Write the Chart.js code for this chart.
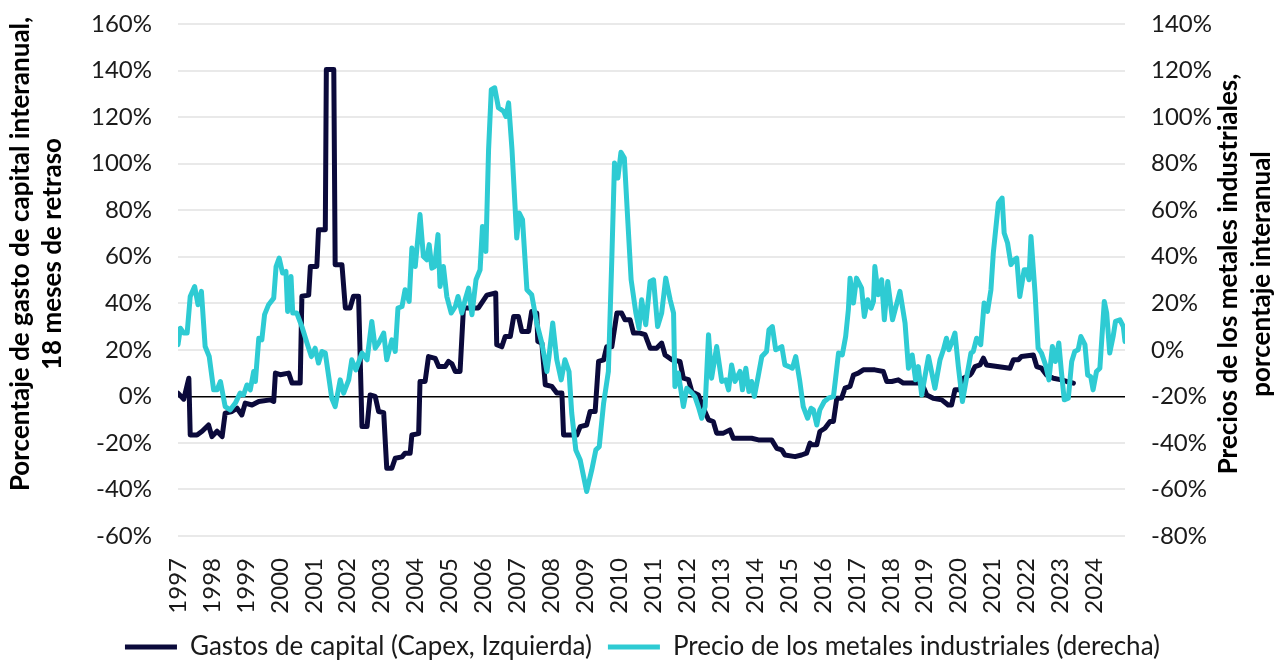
<!DOCTYPE html>
<html lang="es">
<head>
<meta charset="utf-8">
<script src="https://cdn.jsdelivr.net/npm/chart.js@4.4.1/dist/chart.umd.min.js"></script>
<style>
  html, body { margin: 0; padding: 0; background: #fff; }
  #wrap { width: 1285px; height: 664px; position: relative; }
</style>
</head>
<body>
<div id="wrap"><canvas id="chart"></canvas></div>
<script>
// Capex YoY (18-month lag), left axis, % — dates as decimal years
const capexDates = [
  1997.00, 1997.17, 1997.32, 1997.36, 1997.56, 1997.71, 1997.90, 1998.00, 1998.15, 1998.30,
  1998.39, 1998.59, 1998.74, 1998.88, 1998.98, 1999.18, 1999.38, 1999.72, 1999.82, 1999.87,
  2000.01, 2000.26, 2000.36, 2000.60, 2000.65, 2000.85, 2000.90, 2001.09, 2001.14, 2001.34,
  2001.37, 2001.59, 2001.63, 2001.83, 2001.93, 2002.07, 2002.17, 2002.32, 2002.42, 2002.57,
  2002.66, 2002.81, 2002.91, 2003.06, 2003.15, 2003.30, 2003.40, 2003.60, 2003.69, 2003.84,
  2003.89, 2004.09, 2004.13, 2004.28, 2004.38, 2004.58, 2004.68, 2004.87, 2004.97, 2005.07,
  2005.17, 2005.31, 2005.41, 2005.51, 2005.85, 2006.10, 2006.36, 2006.39, 2006.54, 2006.64,
  2006.79, 2006.89, 2007.03, 2007.13, 2007.33, 2007.42, 2007.57, 2007.60, 2007.72, 2007.82,
  2008.01, 2008.16, 2008.31, 2008.36, 2008.75, 2008.85, 2009.04, 2009.14, 2009.29, 2009.39,
  2009.54, 2009.63, 2009.78, 2009.93, 2010.07, 2010.17, 2010.32, 2010.42, 2010.61, 2010.76,
  2010.91, 2011.10, 2011.25, 2011.35, 2011.55, 2011.79, 2011.89, 2012.04, 2012.14, 2012.33,
  2012.48, 2012.63, 2012.77, 2012.87, 2013.07, 2013.26, 2013.36, 2013.90, 2014.10, 2014.49,
  2014.64, 2014.79, 2014.88, 2015.18, 2015.37, 2015.52, 2015.62, 2015.67, 2015.82, 2015.91,
  2016.06, 2016.21, 2016.31, 2016.41, 2016.55, 2016.65, 2016.80, 2016.90, 2017.04, 2017.19,
  2017.53, 2017.78, 2017.88, 2018.03, 2018.22, 2018.37, 2018.91, 2019.06, 2019.25, 2019.50,
  2019.69, 2019.79, 2019.89, 2020.04, 2020.14, 2020.33, 2020.38, 2020.48, 2020.63, 2020.73,
  2020.82, 2021.51, 2021.61, 2021.76, 2021.85, 2022.20, 2022.30, 2022.44, 2022.59, 2022.79,
  2023.03, 2023.18, 2023.38
];
const capexValues = [
  1.4, -1.2, 7.8, -16.6, -16.6, -15, -12.3, -17.3, -15, -17.3,
  -7.2, -6.5, -5.1, -8, -2.9, -3.7, -2.2, -1.5, -2.2, 10,
  9.3, 10, 5.7, 5.7, 43, 43.5, 55.8, 55.8, 71.6, 71.6,
  140.4, 140.4, 56.6, 56.6, 38, 38, 43, 43, -13, -13,
  0.6, 0, -6.5, -7, -30.9, -30.9, -26.6, -26, -24.4, -24.4,
  -16.6, -16, 6.4, 6.4, 17.1, 16.3, 12.8, 12.8, 15, 14,
  10.7, 10.7, 38, 38, 38, 43.5, 44.4, 22.2, 21.3, 25.7,
  25.7, 34.3, 34.3, 27.9, 27.9, 36.5, 35.8, 23.6, 22.9, 5,
  4.3, 1.4, 1.4, -16.6, -16.6, -13, -12.3, -6.5, -6.5, 15,
  15.7, 21.3, 21.3, 35.8, 35.8, 32.9, 32.9, 27.2, 27.2, 26.5,
  20.7, 20.7, 22.9, 17.8, 15.7, 15, 7.8, 7.2, 2, 0.6,
  -5.1, -10.1, -10.8, -15.8, -15.8, -14.4, -18, -18, -18.7, -18.7,
  -22.3, -23, -25.2, -25.9, -25.2, -24.4, -20.1, -20.8, -20.8, -15.1,
  -13.7, -10.8, -10.8, -0.8, -0.8, 3.5, 4.3, 9.2, 10, 11.4,
  11.4, 10.7, 6.4, 6.4, 7.1, 5.7, 5.7, 0.6, -0.8, -1.5,
  -3.7, -3.7, 2.8, 2.8, 7.8, 9.2, 10, 12.8, 13.5, 16.4,
  13.5, 12.1, 15.7, 15.7, 17.1, 17.8, 12.8, 12.1, 9.2, 7.8,
  7.1, 6.4, 5.7
];

// Industrial metals price YoY, right axis, %
const metalsDates = [
  1997.00, 1997.07, 1997.17, 1997.27, 1997.36, 1997.49, 1997.59, 1997.69, 1997.80, 1997.92,
  1998.05, 1998.15, 1998.25, 1998.39, 1998.54, 1998.69, 1998.83, 1998.93, 1999.03, 1999.13,
  1999.23, 1999.28, 1999.38, 1999.47, 1999.55, 1999.67, 1999.82, 1999.89, 1999.98, 2000.08,
  2000.18, 2000.23, 2000.33, 2000.38, 2000.50, 2000.65, 2000.80, 2000.93, 2001.04, 2001.14,
  2001.24, 2001.34, 2001.44, 2001.53, 2001.63, 2001.78, 2001.88, 2002.03, 2002.12, 2002.24,
  2002.42, 2002.57, 2002.71, 2002.81, 2002.91, 2003.06, 2003.15, 2003.30, 2003.40, 2003.48,
  2003.60, 2003.69, 2003.81, 2003.89, 2003.99, 2004.13, 2004.23, 2004.33, 2004.40, 2004.48,
  2004.56, 2004.66, 2004.72, 2004.82, 2004.92, 2005.05, 2005.17, 2005.25, 2005.36, 2005.46,
  2005.56, 2005.66, 2005.78, 2005.90, 2005.97, 2006.07, 2006.15, 2006.23, 2006.33, 2006.44,
  2006.59, 2006.66, 2006.74, 2006.84, 2006.98, 2007.05, 2007.15, 2007.28, 2007.42, 2007.57,
  2007.72, 2007.87, 2007.93, 2008.04, 2008.16, 2008.29, 2008.40, 2008.52, 2008.60, 2008.72,
  2008.85, 2009.04, 2009.19, 2009.31, 2009.41, 2009.54, 2009.68, 2009.78, 2009.86, 2009.96,
  2010.05, 2010.15, 2010.25, 2010.35, 2010.49, 2010.58, 2010.66, 2010.78, 2010.91, 2011.01,
  2011.13, 2011.25, 2011.37, 2011.50, 2011.60, 2011.64, 2011.74, 2011.89, 2011.99, 2012.14,
  2012.23, 2012.33, 2012.43, 2012.53, 2012.63, 2012.72, 2012.87, 2013.02, 2013.14, 2013.22,
  2013.31, 2013.41, 2013.56, 2013.63, 2013.73, 2013.82, 2013.90, 2013.98, 2014.10, 2014.20,
  2014.34, 2014.41, 2014.51, 2014.61, 2014.71, 2014.79, 2014.88, 2015.00, 2015.10, 2015.20,
  2015.32, 2015.42, 2015.55, 2015.65, 2015.72, 2015.82, 2015.91, 2016.04, 2016.16, 2016.31,
  2016.38, 2016.46, 2016.57, 2016.67, 2016.75, 2016.80, 2016.90, 2016.99, 2017.14, 2017.22,
  2017.32, 2017.42, 2017.49, 2017.53, 2017.63, 2017.73, 2017.81, 2017.91, 2018.05, 2018.27,
  2018.42, 2018.52, 2018.63, 2018.73, 2018.81, 2018.91, 2019.11, 2019.30, 2019.45, 2019.55,
  2019.64, 2019.71, 2019.79, 2019.89, 2019.99, 2020.11, 2020.23, 2020.36, 2020.43, 2020.53,
  2020.65, 2020.75, 2020.85, 2020.95, 2021.02, 2021.17, 2021.28, 2021.34, 2021.44, 2021.54,
  2021.64, 2021.71, 2021.80, 2021.93, 2022.00, 2022.07, 2022.13, 2022.25, 2022.34, 2022.44,
  2022.56, 2022.66, 2022.76, 2022.85, 2022.95, 2023.03, 2023.11, 2023.23, 2023.33, 2023.42,
  2023.52, 2023.60, 2023.72, 2023.80, 2023.89, 2023.96, 2024.06, 2024.16, 2024.29, 2024.36,
  2024.45, 2024.55, 2024.62, 2024.75, 2024.85, 2024.90
];
const metalsValues = [
  2.2, 9.3, 7.2, 7.2, 22.9, 27.2, 19.4, 25.1, 1.4, -2.9,
  -17.2, -17.2, -13.6, -24.4, -25.8, -22.9, -18.6, -19.4, -15.1, -17.2,
  -9.3, -13.6, 5, 4.3, 15.1, 19.4, 22.2, 35.8, 39.4, 33,
  33.7, 16.5, 31.5, 15.8, 15.8, 10, 2.9, -2.9, 0.7, -5.7,
  -0.7, -1.4, -11.5, -20.8, -24.4, -12.9, -18.6, -12.9, -4.3, -8.6,
  -1.4, -4.3, 12.2, 0.7, 2.9, 7.2, -4.3, 4.3, -0.7, 17.9,
  18.6, 25.8, 20.8, 43.7, 35.8, 58.1, 40.1, 38.7, 45.2, 35.1,
  35.8, 49.5, 27.2, 35.8, 22.9, 15.8, 18.6, 22.9, 15.8, 21.5,
  26.5, 15.1, 30.1, 34.4, 53, 42.3, 86, 111.8, 112.6, 104,
  102.5, 100.3, 106.1, 86, 48, 58.8, 55.9, 25.8, 23.7, 11.5,
  2.9, -9.3, -2.9, 11.5, -4.3, -12.9, -4.3, -9.3, -27.2, -43,
  -47.3, -60.9, -51.6, -43, -41.6, -22.9, -9.3, 38.7, 80.3, 73.8,
  84.9, 82.4, 55.9, 30.1, 15.8, 9.3, 21.5, 10.8, 29.4, 30.1,
  10, 15.8, 30.8, 21.5, 15.8, -15.8, -10, -24.4, -16.5, -18.6,
  -20.1, -24.4, -29.4, -24.4, 6.5, -12.2, 1.4, -13.6, -12.9, -17.2,
  -6.5, -13.6, -9.3, -17.2, -7.9, -17.9, -13.6, -20.1, -10.8, -2.9,
  -0.7, 8.6, 10, 0, 0.7, 1.4, -6.5, -7.2, -7.9, -2.9,
  -13.6, -24.4, -29.4, -25.1, -25.8, -32.3, -25.8, -22.2, -20.8, -20.1,
  -11.5, -1.4, -2.2, 5.7, 17.2, 30.8, 20.1, 30.8, 26.5, 14.3,
  21.5, 17.9, 20.8, 35.8, 23.7, 30.1, 12.9, 29.4, 12.9, 25.1,
  11.5, -7.9, -2.2, -12.9, -7.2, -19.4, -2.9, -16.5, -4.3, 0,
  5, 0, 2.9, 7.2, -7.2, -22.2, -12.2, -1.4, -0.7, 5,
  2.2, 20.1, 16.5, 25.8, 41.6, 63.1, 65.2, 50.2, 45.9, 36.6,
  38.7, 39.4, 22.9, 34.4, 34.4, 30.1, 48.7, 24.4, 0.7, -1.4,
  -6.5, -12.9, 1.4, -5, 2.9, -10, -21.5, -20.8, -5, -0.7,
  0, 5.7, 2.2, -10.8, -11.5, -17.2, -9.3, -7.9, 20.8, 15.8,
  -1.4, 5.7, 12.2, 12.9, 10, 3.6
];

const yearLabels = [
  1997, 1998, 1999, 2000, 2001, 2002, 2003, 2004, 2005, 2006, 2007, 2008, 2009, 2010,
  2011, 2012, 2013, 2014, 2015, 2016, 2017, 2018, 2019, 2020, 2021, 2022, 2023, 2024
];

const leftTitle = ['Porcentaje de gasto de capital interanual,', '18 meses de retraso'];
const rightTitle = ['Precios de los metales industriales,', 'porcentaje interanual'];

const NAVY = '#0b0a3b';
const CYAN = '#2ecbd3';
const FONT = 'Lato, "Noto Sans", sans-serif';

function toPoints(xs, ys) {
  return xs.map((x, i) => ({ x: x, y: ys[i] }));
}

// vertical axis titles (drawn by hand so they can sit where the original has them)
const axisTitles = {
  id: 'axisTitles',
  afterDraw(chart) {
    const ctx = chart.ctx;
    function draw(lines, xs, y) {
      ctx.save();
      ctx.font = 'bold 26px ' + FONT;
      ctx.fillStyle = '#000';
      ctx.textAlign = 'center';
      ctx.textBaseline = 'middle';
      lines.forEach((line, i) => {
        ctx.save();
        ctx.translate(xs[i], y);
        ctx.rotate(-Math.PI / 2);
        ctx.fillText(line, 0, 0);
        ctx.restore();
      });
      ctx.restore();
    }
    draw(leftTitle, [21, 53], 254);
    draw(rightTitle, [1229, 1262], 274);
  }
};

const ctx = document.getElementById('chart').getContext('2d');

new Chart(ctx, {
  type: 'line',
  data: {
    datasets: [
      {
        label: 'Gastos de capital (Capex, Izquierda)',
        data: toPoints(capexDates, capexValues),
        borderColor: NAVY,
        backgroundColor: NAVY,
        borderWidth: 5,
        pointRadius: 0,
        tension: 0,
        borderJoinStyle: 'round',
        borderCapStyle: 'round',
        yAxisID: 'y',
        order: 2
      },
      {
        label: 'Precio de los metales industriales (derecha)',
        data: toPoints(metalsDates, metalsValues),
        borderColor: CYAN,
        backgroundColor: CYAN,
        borderWidth: 5,
        pointRadius: 0,
        tension: 0,
        borderJoinStyle: 'round',
        borderCapStyle: 'round',
        yAxisID: 'y1',
        order: 1
      }
    ]
  },
  options: {
    responsive: true,
    maintainAspectRatio: false,
    animation: false,
    devicePixelRatio: 1,
    layout: {
      padding: { top: 24, bottom: -6 }
    },
    scales: {
      x: {
        type: 'linear',
        min: 1997,
        max: 2024.9,
        afterBuildTicks: function(scale) {
          scale.ticks = yearLabels.map(v => ({ value: v }));
        },
        afterFit: function(scale) {
          scale.height = 82;
        },
        grid: { display: false },
        border: { display: false },
        ticks: {
          autoSkip: false,
          minRotation: 90,
          maxRotation: 90,
          padding: 14,
          color: '#1a1a1a',
          font: { family: FONT, size: 24 },
          callback: function(value) {
            return String(value);
          }
        }
      },
      y: {
        position: 'left',
        min: -60,
        max: 160,
        afterFit: function(scale) {
          scale.width = 178;
        },
        border: { display: false },
        grid: {
          tickLength: 26,
          tickColor: 'rgba(0,0,0,0)',
          color: function(c) {
            return c.tick && c.tick.value === 0 ? '#000000' : '#e9e9e9';
          },
          lineWidth: function(c) {
            return c.tick && c.tick.value === 0 ? 1.5 : 2;
          }
        },
        ticks: {
          stepSize: 20,
          padding: 0,
          color: '#1a1a1a',
          font: { family: FONT, size: 24 },
          callback: function(value) {
            return value + '%';
          }
        }
      },
      y1: {
        position: 'right',
        min: -80,
        max: 140,
        afterFit: function(scale) {
          scale.width = 160;
        },
        border: { display: false },
        grid: {
          drawOnChartArea: false,
          tickLength: 26,
          tickColor: 'rgba(0,0,0,0)'
        },
        ticks: {
          stepSize: 20,
          padding: 0,
          color: '#1a1a1a',
          font: { family: FONT, size: 24 },
          callback: function(value) {
            return value + '%';
          }
        }
      }
    },
    plugins: {
      legend: {
        position: 'bottom',
        labels: {
          usePointStyle: true,
          pointStyle: 'line',
          pointStyleWidth: 52,
          padding: 16,
          color: '#1a1a1a',
          font: { family: FONT, size: 26 },
          sort: function(a, b) {
            return a.datasetIndex - b.datasetIndex;
          }
        }
      },
      tooltip: { enabled: false }
    }
  },
  plugins: [axisTitles]
});
</script>
</body>
</html>
